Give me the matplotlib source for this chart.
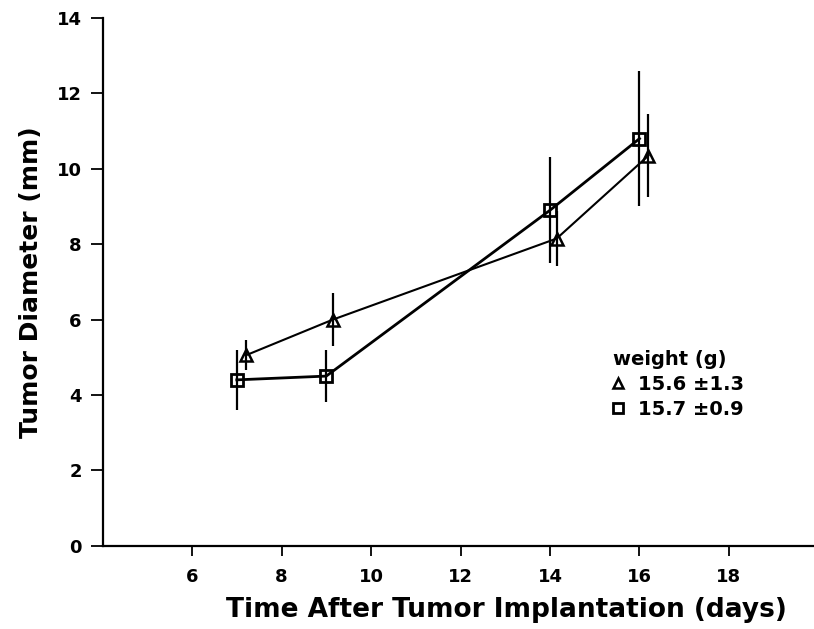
import matplotlib
matplotlib.use("Agg")
import matplotlib.pyplot as plt
from matplotlib.lines import Line2D

# Days after implantation and tumour diameter (mm)
days_tri = [7.2, 9.15, 14.15, 16.2]
diam_tri = [5.05, 6.0, 8.15, 10.35]
err_tri = [0.4, 0.7, 0.72, 1.1]

days_sq = [7.0, 9.0, 14.0, 16.0]
diam_sq = [4.4, 4.5, 8.9, 10.8]
err_sq = [0.8, 0.7, 1.4, 1.8]

labels = ["15.6 \u00b11.3", "15.7 \u00b10.9"]
x_ticks = [6, 8, 10, 12, 14, 16, 18]
y_ticks = [0, 2, 4, 6, 8, 10, 12, 14]

plt.rcParams['font.family'] = ['DejaVu Sans']
plt.rcParams['font.weight'] = 'bold'

fig = plt.figure(figsize=(8.14, 6.29), dpi=100)
ax = fig.add_axes([0.126, 0.1324, 0.874, 0.839])

ax.errorbar(days_tri, diam_tri, yerr=err_tri, color='black', lw=1.5,
            elinewidth=1.6, capsize=0, marker='^', ms=8, mfc='none',
            mec='black', mew=1.8)
ax.errorbar(days_sq, diam_sq, yerr=err_sq, color='black', lw=2.0,
            elinewidth=1.6, capsize=0, marker='s', ms=8, mfc='none',
            mec='black', mew=2.0)

ax.set_xlim(4, 19.9)
ax.set_ylim(0, 14)
ax.set_xticks(x_ticks)
ax.set_yticks(y_ticks)
ax.tick_params(axis='both', direction='out', width=1.3, labelsize=13)
ax.tick_params(axis='x', length=7, pad=9)
ax.tick_params(axis='y', length=9, pad=6)
for lab in ax.get_xticklabels() + ax.get_yticklabels():
    lab.set_fontweight('bold')

for s in ['top', 'right']:
    ax.spines[s].set_visible(False)
ax.spines['left'].set_linewidth(1.6)
ax.spines['bottom'].set_linewidth(1.6)

ax.set_xlabel("Time After Tumor Implantation (days)", fontsize=19,
              fontweight='bold', labelpad=8, x=0.568)
ax.set_ylabel("Tumor Diameter (mm)", fontsize=18, fontweight='bold',
              labelpad=10)

handles = [
    Line2D([], [], ls='none', marker='^', ms=7, mfc='none', mec='black', mew=1.8),
    Line2D([], [], ls='none', marker='s', ms=7, mfc='none', mec='black', mew=2.0),
]
leg = ax.legend(handles, labels, title="weight (g)", loc='upper left',
                bbox_to_anchor=(0.706, 0.385), frameon=False, fontsize=14,
                title_fontsize=14, handlelength=0.6, handletextpad=0.7,
                borderaxespad=0, labelspacing=0.3)
leg._legend_box.align = "left"
leg.get_title().set_fontweight('bold')

fig.savefig("out.png", dpi=100)
